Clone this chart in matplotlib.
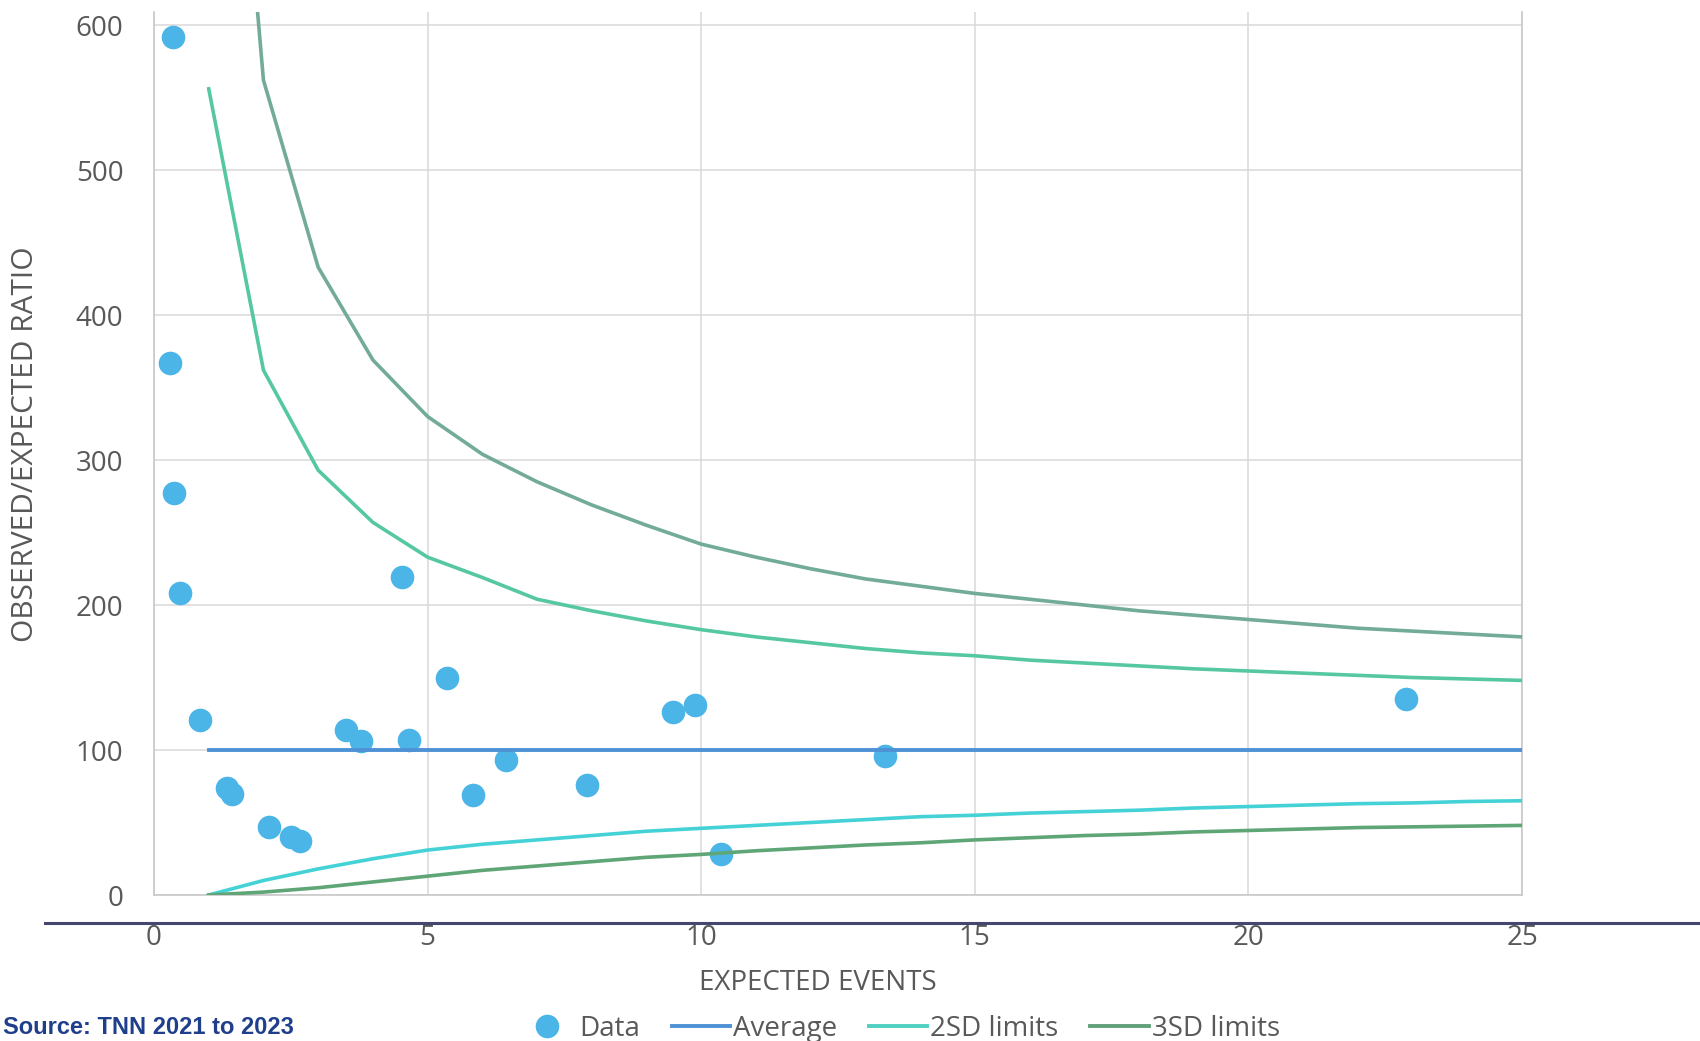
import matplotlib
matplotlib.use("Agg")
import matplotlib.pyplot as plt
from matplotlib.lines import Line2D

# 1. Data
# each hospital: expected events vs observed/expected ratio (%)
expected = [0.35, 0.29, 0.36, 0.48, 0.84, 1.34, 1.42, 2.10, 2.50, 2.67, 3.50,
            3.79, 4.54, 4.66, 5.35, 5.83, 6.43, 7.91, 9.49, 9.89, 10.37,
            13.35, 22.88]
ratio = [592, 367, 277, 208, 121, 74, 70, 47, 40, 37, 114,
         106, 219, 107, 150, 69, 93, 76, 126, 131, 28,
         96, 135]

# control limits, one value per whole expected count 1..25
limit_events = list(range(1, 26))
average = [100] * 25
upper_2sd = [556, 362, 293, 257, 233, 219, 204, 196, 189, 183, 178, 174, 170,
             167, 165, 162, 160, 158, 156, 154.5, 153, 151.5, 150, 149, 148]
lower_2sd = [0, 10, 18, 25, 31, 35, 38, 41, 44, 46, 48, 50, 52,
             54, 55, 56.5, 57.5, 58.5, 60, 61, 62, 63, 63.5, 64.5, 65]
upper_3sd = [1000, 562, 433, 369, 330, 304, 285, 269, 255, 242, 233, 225, 218,
             213, 208, 204, 200, 196, 193, 190, 187, 184, 182, 180, 178]
lower_3sd = [0, 2, 5, 9, 13, 17, 20, 23, 26, 28, 30.5, 32.5, 34.5,
             36, 38, 39.5, 41, 42, 43.5, 44.5, 45.5, 46.5, 47, 47.5, 48]

y_ticks = [0, 100, 200, 300, 400, 500, 600]
x_ticks = [0, 5, 10, 15, 20, 25]

# 2. Styling
plt.rcParams['font.family'] = ['Open Sans', 'DejaVu Sans']
text_grey = '#595959'
grid_grey = '#d9d9d9'
dot_blue = '#4cb5e8'
avg_blue = '#4e92d6'

fig = plt.figure(figsize=(17, 10.41), dpi=100)
ax = fig.add_axes([154 / 1700, 146 / 1041, 1368 / 1700, 883 / 1041])

# 3. Draw the series (Excel order: data first, then the lines)
ax.plot(expected, ratio, linestyle='none', marker='o', markersize=17,
        color=dot_blue, markeredgewidth=0, zorder=3)
ax.plot(limit_events, average, color=avg_blue, lw=2.8, zorder=4)
ax.plot(limit_events, upper_2sd, color='#55c8a2', lw=2.6, zorder=4)
ax.plot(limit_events, lower_2sd, color='#45d2d6', lw=2.6, zorder=4)
ax.plot(limit_events, upper_3sd, color='#72ab99', lw=2.6, zorder=4)
ax.plot(limit_events, lower_3sd, color='#5fa677', lw=2.6, zorder=4)

# 4. Axes, ticks and grid
ax.set_xlim(0, 25)
ax.set_ylim(0, 609)
ax.set_xticks(x_ticks)
ax.set_yticks(y_ticks)
ax.grid(True, color=grid_grey, lw=1.1)
ax.set_axisbelow(True)
ax.spines['top'].set_visible(False)
for side in ['left', 'right', 'bottom']:
    ax.spines[side].set_color('#c8c8c8')
    ax.spines[side].set_linewidth(1.2)
ax.tick_params(axis='both', length=0, labelsize=20, colors=text_grey)
ax.tick_params(axis='x', pad=21)
ax.tick_params(axis='y', pad=22)

ax.set_xlabel('EXPECTED EVENTS', fontsize=20, color=text_grey)
ax.xaxis.set_label_coords(0.485, -0.084)
ax.set_ylabel('OBSERVED/EXPECTED RATIO', fontsize=21.5, color=text_grey)
ax.yaxis.set_label_coords(-0.083, 0.51)

# slide rule under the plot area
fig.add_artist(Line2D([45 / 1700, 1.0], [1 - 923 / 1041] * 2,
                      transform=fig.transFigure, color='#45476f', lw=2.2))

# 5. Legend along the bottom
handles = [
    Line2D([], [], linestyle='none', marker='o', markersize=17,
           color=dot_blue, markeredgewidth=0),
    Line2D([], [], color=avg_blue, lw=2.8),
    Line2D([], [], color='#50d0c0', lw=2.8),
    Line2D([], [], color='#62a07a', lw=2.8),
]
labels = ['Data', 'Average', '2SD limits', '3SD limits']
fig.legend(handles, labels, loc='center left',
           bbox_to_anchor=(518 / 1700, 1 - 1029 / 1041), ncol=4,
           frameon=False, fontsize=20, labelcolor=text_grey,
           handlelength=2.1, handletextpad=0.1, columnspacing=1.15,
           borderpad=0, borderaxespad=0)

# source note at the bottom left
fig.text(3 / 1700, 1 - 1028 / 1041, 'Source: TNN 2021 to 2023',
         ha='left', va='center', fontsize=17, fontweight='bold',
         color='#1f3f8c', family=['Liberation Sans Narrow', 'Liberation Sans'])

fig.savefig('out.png', dpi=100, facecolor='white')
